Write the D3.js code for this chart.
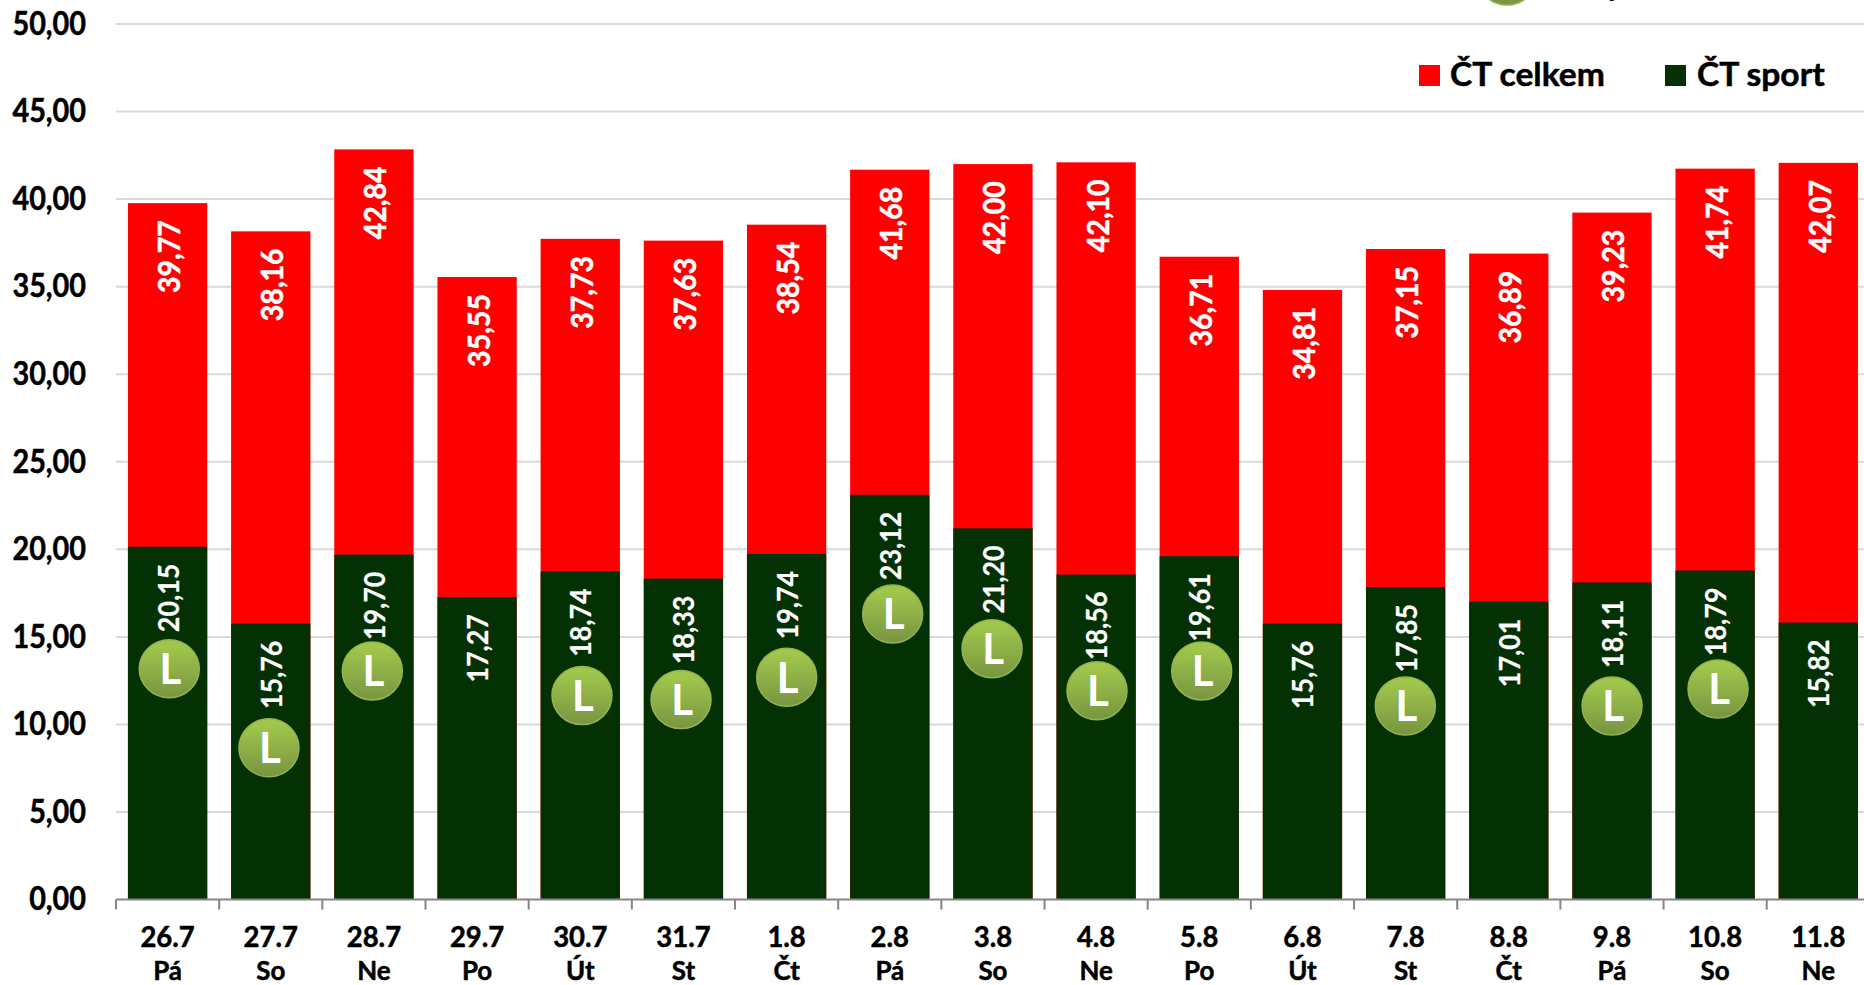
<!DOCTYPE html>
<html lang="cs">
<head>
<meta charset="utf-8">
<title>ČT celkem / ČT sport</title>
<script src="https://cdn.jsdelivr.net/npm/d3@7"></script>
<style>
    html, body { margin: 0; padding: 0; background: #fff; overflow: hidden; }
    svg { display: block; }
    text { font-family: Lato, "Open Sans", sans-serif; font-weight: 700; }
</style>
</head>
<body>
<svg id="chart" width="1864" height="985"></svg>
<script>
const dates = ["26.7", "27.7", "28.7", "29.7", "30.7", "31.7", "1.8", "2.8", "3.8", "4.8", "5.8", "6.8", "7.8", "8.8", "9.8", "10.8", "11.8"];
const days = ["Pá", "So", "Ne", "Po", "Út", "St", "Čt", "Pá", "So", "Ne", "Po", "Út", "St", "Čt", "Pá", "So", "Ne"];
const celkem = [39.77, 38.16, 42.84, 35.55, 37.73, 37.63, 38.54, 41.68, 42.00, 42.10, 36.71, 34.81, 37.15, 36.89, 39.23, 41.74, 42.07];
const sport = [20.15, 15.76, 19.70, 17.27, 18.74, 18.33, 19.74, 23.12, 21.20, 18.56, 19.61, 15.76, 17.85, 17.01, 18.11, 18.79, 15.82];
// height of the "L" badge on each day, in axis units (null = no badge)
const badgeLevels = [13.18, 8.67, 13.06, null, 11.65, 11.42, 12.70, 16.31, 14.33, 11.93, 13.06, null, 11.06, null, 11.06, 12.03, null];
const yTicks = [0, 5, 10, 15, 20, 25, 30, 35, 40, 45, 50];

const svg = d3.select("#chart");
const left = 116, step = 103.17;

const x = d3.scaleBand()
    .domain(dates)
    .range([left, left + step * dates.length])
    .paddingInner(0.2314)
    .paddingOuter(0.1157);
const y = d3.scaleLinear().domain([0, 50]).range([899.6, 24]);

const comma = d3.format(".2f");
const fmt = v => comma(v).replace(".", ",");

// Calibri look: Lato glyphs fitted to the reference width, thickened a bit
function squeeze(sel, k, weight = 0.5) {
    sel.each(function() {
        const t = d3.select(this);
        const w = this.getComputedTextLength();
        t.attr("textLength", w * k)
            .attr("lengthAdjust", "spacingAndGlyphs")
            .attr("stroke", t.attr("fill"))
            .attr("stroke-width", weight);
    });
}

const defs = svg.append("defs");
const grad = defs.append("linearGradient")
    .attr("id", "badge")
    .attr("x1", 0).attr("y1", 0).attr("x2", 0).attr("y2", 1);
grad.append("stop").attr("offset", "0.1").attr("stop-color", "#a0c74c");
grad.append("stop").attr("offset", "1").attr("stop-color", "#789440");

// grid
svg.append("g")
    .selectAll("line")
    .data(yTicks.slice(1))
    .join("line")
    .attr("x1", left)
    .attr("x2", 1864)
    .attr("y1", d => y(d))
    .attr("y2", d => y(d))
    .attr("stroke", "#d9d9d9")
    .attr("stroke-width", 2);

// y axis labels
const yAxis = svg.append("g")
    .attr("transform", `translate(${left},0)`)
    .call(d3.axisLeft(y).tickValues(yTicks).tickFormat(fmt).tickSize(0).tickPadding(30));
yAxis.select(".domain").remove();
yAxis.selectAll("text")
    .attr("font-size", 32)
    .attr("fill", "#000")
    .style("font-family", "Lato")
    .call(squeeze, 0.9);

// bars: the sport bar sits in front of the total, both start at zero
svg.append("g")
    .selectAll("rect")
    .data(celkem)
    .join("rect")
    .attr("x", (d, i) => x(dates[i]))
    .attr("width", x.bandwidth())
    .attr("y", d => y(d))
    .attr("height", d => y(0) - y(d))
    .attr("fill", "#ff0000");

svg.append("g")
    .selectAll("rect")
    .data(sport)
    .join("rect")
    .attr("x", (d, i) => x(dates[i]))
    .attr("width", x.bandwidth())
    .attr("y", d => y(d))
    .attr("height", d => y(0) - y(d))
    .attr("fill", "#033103");

// value labels
function valueLabels(values, size, dx, k, weight) {
    svg.append("g")
        .selectAll("text")
        .data(values)
        .join("text")
        .attr("transform", (d, i) => `translate(${x(dates[i]) + x.bandwidth() / 2 + dx},${y(d) + 17}) rotate(-90)`)
        .attr("text-anchor", "end")
        .attr("fill", "#fff")
        .attr("font-size", size)
        .text(fmt)
        .call(squeeze, k, weight);
}
valueLabels(celkem, 31, 12.5, 0.92, 0.5);
valueLabels(sport, 28.5, 11, 0.94, 0.2);

// x axis
const baseY = y(0);
const xAxis = svg.append("g");
xAxis.append("line")
    .attr("x1", left).attr("x2", 1864)
    .attr("y1", baseY).attr("y2", baseY)
    .attr("stroke", "#868686").attr("stroke-width", 2);
xAxis.selectAll("line.tick")
    .data(dates)
    .join("line")
    .attr("class", "tick")
    .attr("x1", (d, i) => left + step * i)
    .attr("x2", (d, i) => left + step * i)
    .attr("y1", baseY)
    .attr("y2", baseY + 10)
    .attr("stroke", "#868686").attr("stroke-width", 2);
xAxis.selectAll("text.date")
    .data(dates)
    .join("text")
    .attr("class", "date")
    .attr("x", d => x(d) + x.bandwidth() / 2)
    .attr("y", 947)
    .attr("text-anchor", "middle")
    .attr("font-size", 28)
    .attr("fill", "#000")
    .text(d => d)
    .call(squeeze, 0.98);
xAxis.selectAll("text.day")
    .data(days)
    .join("text")
    .attr("class", "day")
    .attr("x", (d, i) => x(dates[i]) + x.bandwidth() / 2)
    .attr("y", 979.5)
    .attr("text-anchor", "middle")
    .attr("font-size", 27)
    .attr("fill", "#000")
    .text(d => d)
    .call(squeeze, 0.96);

// the badges were placed by hand in the original, so each sits a little off centre
const badgeNudge = [1.7, -1.8, -1.6, 0, 1.7, -2.4, 0.1, 2.9, -0.9, 0.9, 2.4, 0, -0.3, 0, 0.1, 2.9, 0];
function badge(cx, cy) {
    const g = svg.append("g").attr("transform", `translate(${cx},${cy})`);
    g.append("ellipse")
        .attr("rx", 30).attr("ry", 29)
        .attr("fill", "url(#badge)")
        .attr("stroke", "#93b44f").attr("stroke-width", 1.5);
    g.append("text")
        .attr("x", 1).attr("y", 15.5)
        .attr("text-anchor", "middle")
        .attr("font-size", 42)
        .attr("fill", "#fff")
        .text("L");
}
badgeLevels.forEach((level, i) => {
    if (level === null) return;
    badge(x(dates[i]) + x.bandwidth() / 2 + badgeNudge[i], y(level));
});

// legend
const legendItems = [
    { label: "ČT celkem", color: "#ff0000", box: 1419, text: 1450 },
    { label: "ČT sport", color: "#033103", box: 1665, text: 1697 }
];
legendItems.forEach(item => {
    svg.append("rect")
        .attr("x", item.box).attr("y", 65)
        .attr("width", 21).attr("height", 21)
        .attr("fill", item.color);
    svg.append("text")
        .attr("x", item.text).attr("y", 86)
        .attr("font-size", 32)
        .attr("fill", "#000")
        .text(item.label)
        .call(squeeze, 1.05);
});

// third legend entry, cut off by the top edge of the picture
badge(1507, -24);
svg.append("text")
    .attr("x", 1540).attr("y", -4)
    .attr("font-size", 32)
    .attr("fill", "#000")
    .text("Přímý");
</script>
</body>
</html>
